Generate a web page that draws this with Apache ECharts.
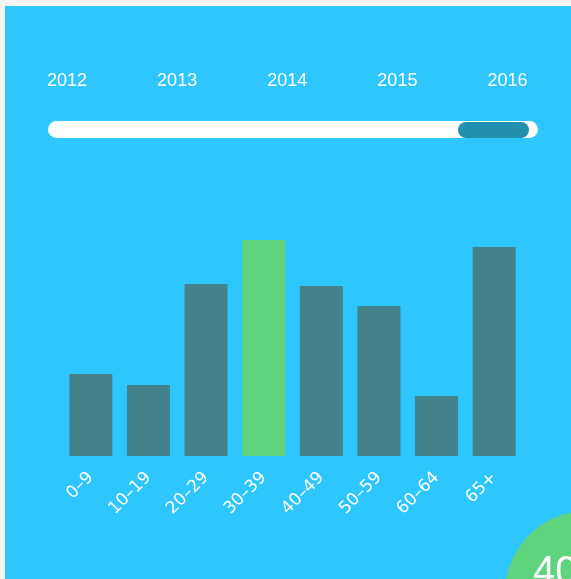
<!DOCTYPE html>
<html>
<head>
<meta charset="utf-8">
<script src="https://cdn.jsdelivr.net/npm/echarts@6/dist/echarts.min.js"></script>
<style>
  html, body { margin: 0; padding: 0; background: #f5f5f5; }
  #chart { position: absolute; left: 5px; top: 6px; width: 566px; height: 573px; background: #2dc6fe; }
</style>
</head>
<body>
<div id="chart"></div>
<script>
const years = ['2012', '2013', '2014', '2015', '2016'];
const ageGroups = ['0–9', '10–19', '20–29', '30–39', '40–49', '50–59', '60–64', '65+'];
const groupValues = [8.2, 7.1, 17.2, 21.6, 17.0, 15.0, 6.0, 20.9];
const highlightIndex = 3;
const badgeText = '40';

const barColor = '#44838c';
const greenColor = '#5fd47c';

const chart = echarts.init(document.getElementById('chart'));

chart.setOption({
  animation: false,
  grid: [
    { left: 57, right: 48, top: 200, bottom: 123 },
    { left: 62, right: 63.5, top: 75, height: 1 },
  ],
  xAxis: [
    {
      type: 'category',
      gridIndex: 0,
      data: ageGroups,
      axisLine: { show: false },
      axisTick: { show: false },
      axisLabel: {
        color: '#fff',
        fontFamily: 'DejaVu Sans',
        fontSize: 17,
        rotate: 45,
        margin: 19,
        interval: 0,
      },
    },
    {
      type: 'category',
      gridIndex: 1,
      position: 'top',
      boundaryGap: false,
      data: years,
      axisLine: { show: false },
      axisTick: { show: false },
      axisLabel: {
        color: '#fff',
        fontFamily: 'Liberation Sans',
        fontSize: 18,
        margin: 0,
        verticalAlign: 'middle',
        interval: 0,
      },
    },
  ],
  yAxis: [
    { type: 'value', gridIndex: 0, min: 0, max: 25, show: false },
    { type: 'value', gridIndex: 1, show: false },
  ],
  series: [
    {
      type: 'bar',
      xAxisIndex: 0,
      yAxisIndex: 0,
      barWidth: 43,
      data: groupValues.map((v, i) => ({
        value: v,
        itemStyle: { color: i === highlightIndex ? greenColor : barColor },
      })),
    },
  ],
  graphic: [
    {
      type: 'rect',
      shape: { x: 43, y: 115, width: 490, height: 17, r: 8.5 },
      style: { fill: '#fff' },
    },
    {
      type: 'rect',
      shape: { x: 453, y: 116, width: 71, height: 16, r: 8 },
      style: { fill: '#2391ad' },
    },
    {
      type: 'circle',
      shape: { cx: 582, cy: 587, r: 82 },
      style: { fill: greenColor },
    },
    {
      type: 'text',
      x: 528,
      y: 547,
      style: {
        text: badgeText,
        fill: '#fff',
        font: '40px "Liberation Sans"',
        textVerticalAlign: 'top',
      },
    },
  ],
});
</script>
</body>
</html>
